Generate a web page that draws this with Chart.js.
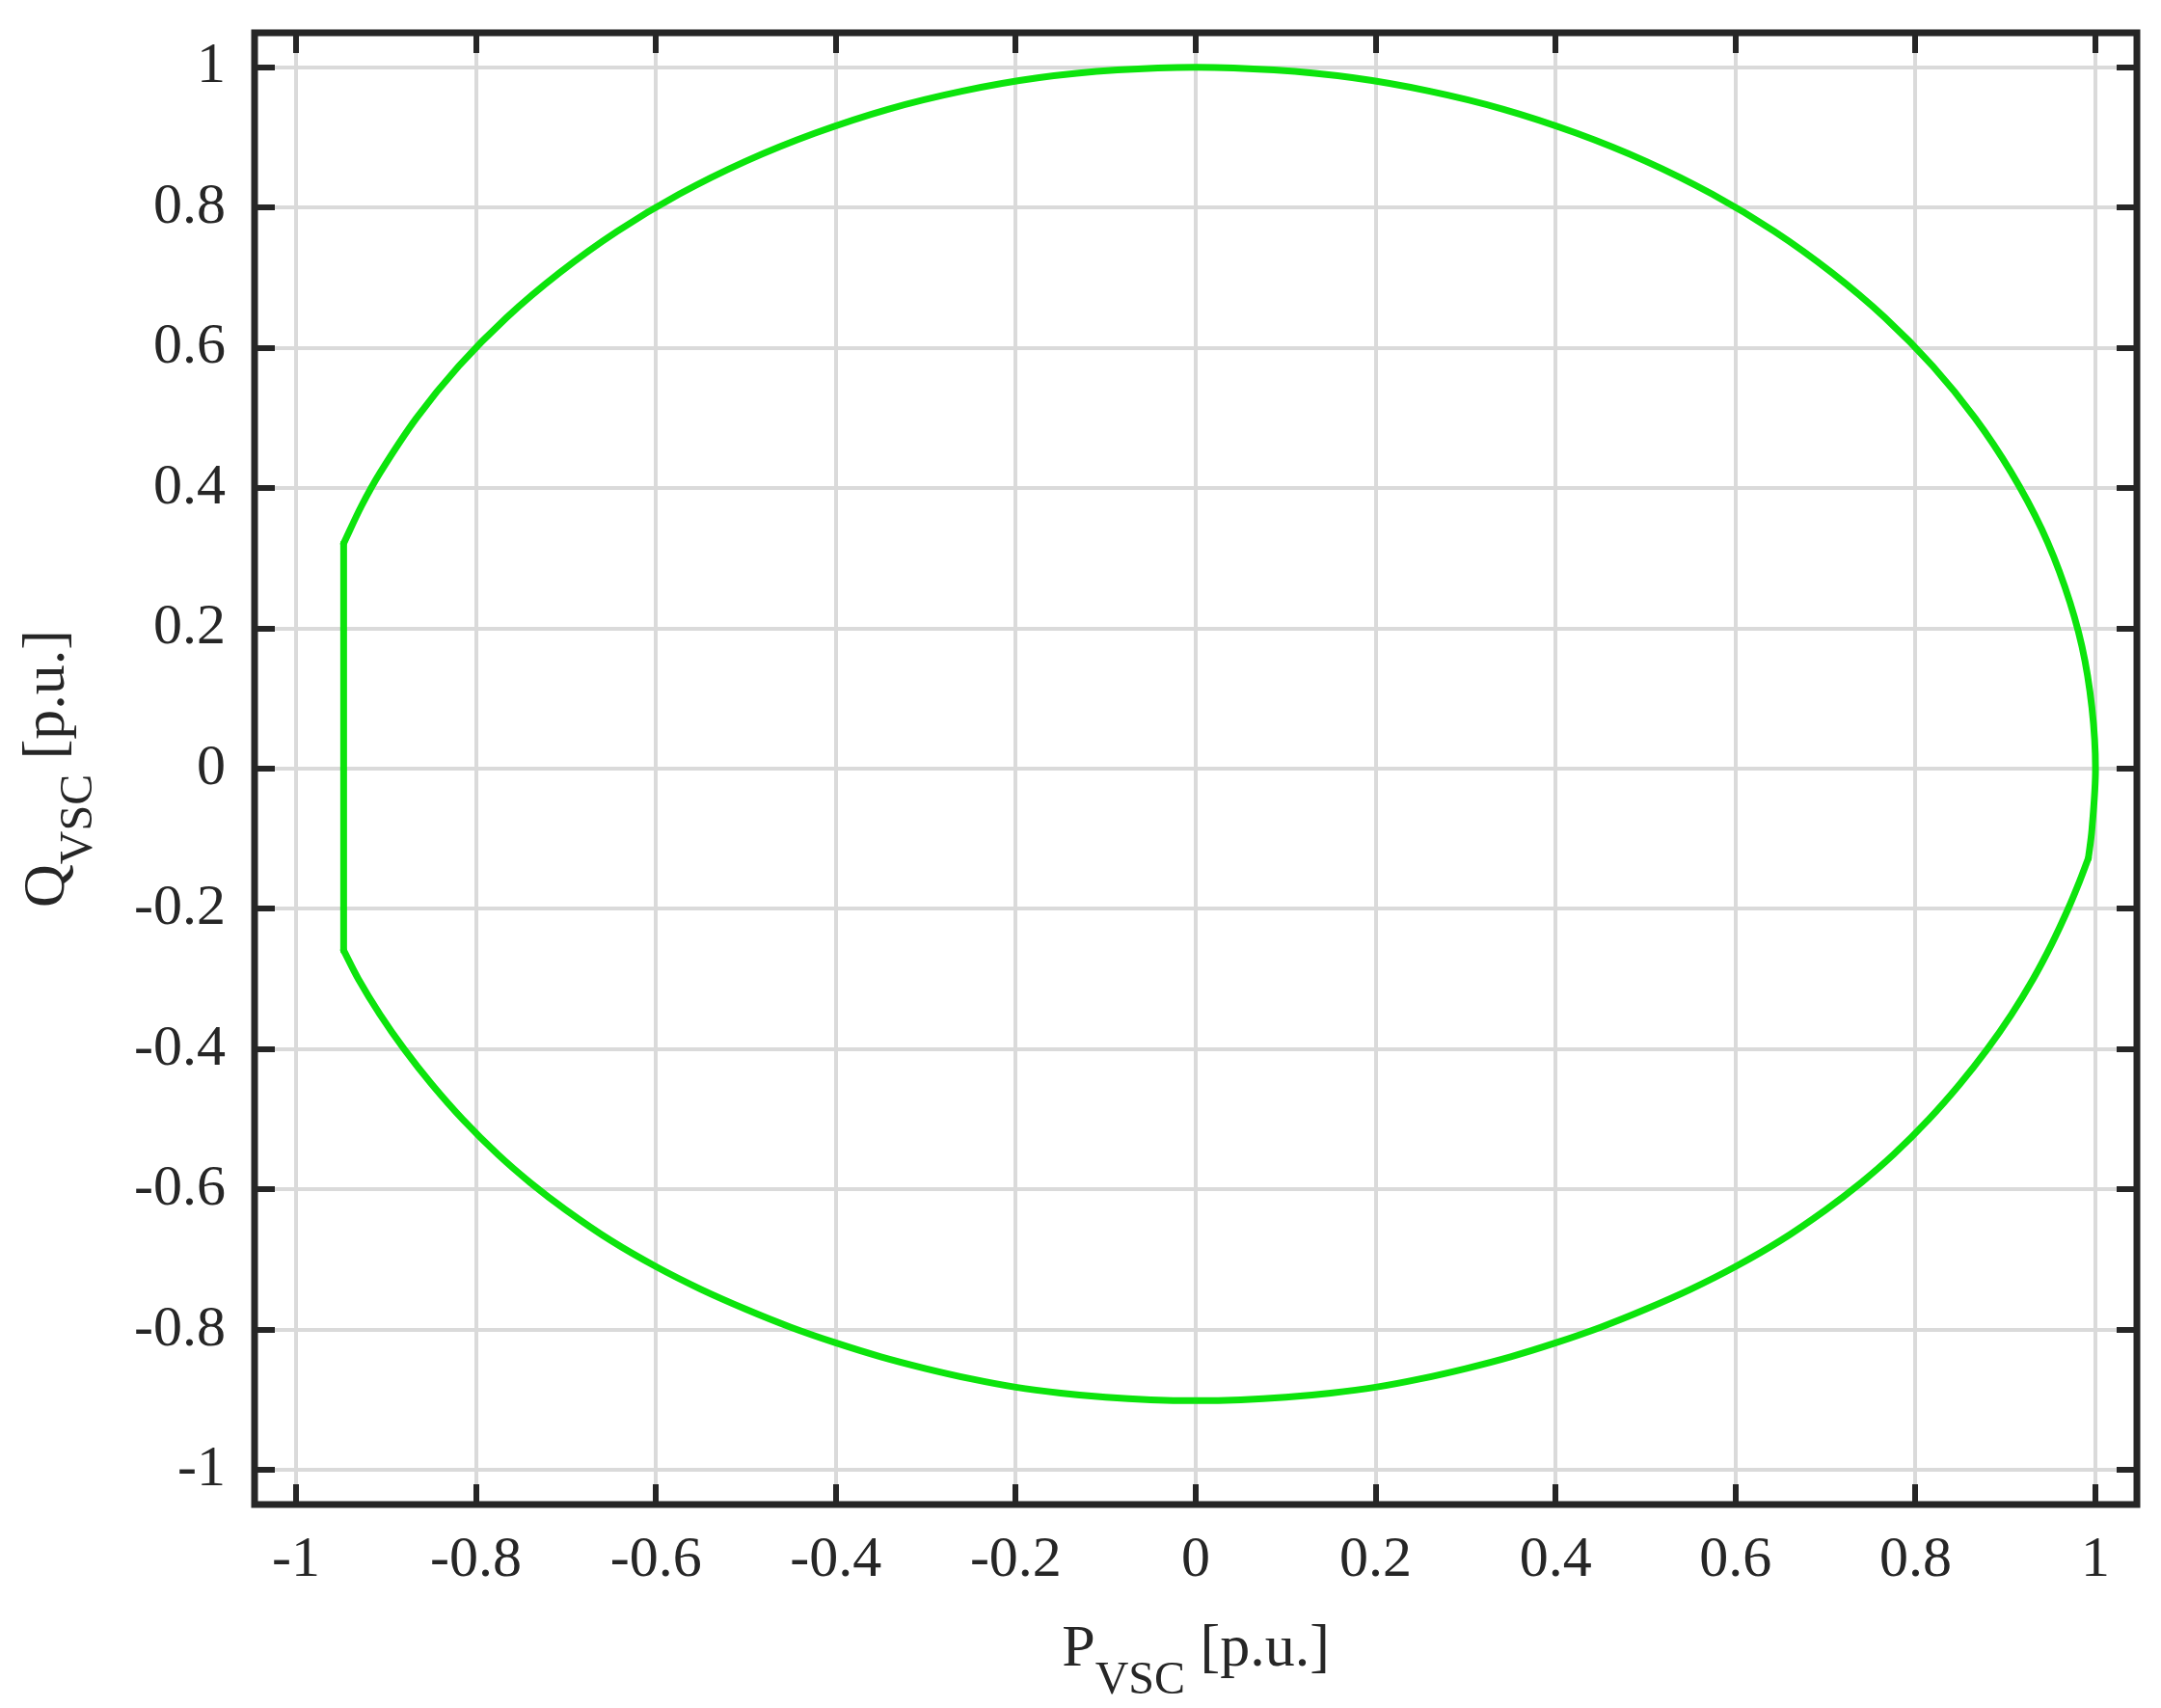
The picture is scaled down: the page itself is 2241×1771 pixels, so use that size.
<!DOCTYPE html>
<html>
<head>
<meta charset="utf-8">
<script src="https://cdn.jsdelivr.net/npm/chart.js@4/dist/chart.umd.min.js"></script>
<style>
  html, body { margin: 0; padding: 0; background: #ffffff; }
  #wrap { width: 2241px; height: 1771px; }
</style>
</head>
<body>
<div id="wrap"><canvas id="c" width="2241" height="1771"></canvas></div>
<script>
// ---- Data ----
// Upper boundary: from the top-left corner of the cut, over the top, to the kink on the right
const P_UPPER = [
  -0.947, -0.927, -0.906, -0.866, -0.819, -0.766, -0.707, -0.643, -0.574, -0.500,
  -0.423, -0.342, -0.259, -0.174, -0.087, 0.000, 0.087, 0.174, 0.259, 0.342,
  0.423, 0.500, 0.574, 0.643, 0.707, 0.766, 0.819, 0.866, 0.906, 0.940,
  0.966, 0.985, 0.996, 1.000, 0.996, 0.992
];
const Q_UPPER = [
  0.321, 0.375, 0.423, 0.500, 0.574, 0.643, 0.707, 0.766, 0.819, 0.866,
  0.906, 0.940, 0.966, 0.985, 0.996, 1.000, 0.996, 0.985, 0.966, 0.940,
  0.906, 0.866, 0.819, 0.766, 0.707, 0.643, 0.574, 0.500, 0.423, 0.342,
  0.259, 0.174, 0.087, 0.000, -0.087, -0.128
];
// Lower boundary: from the kink on the right, under the bottom, to the bottom-left corner of the cut
const P_LOWER = [
  0.9920, 0.9825, 0.9695, 0.9513, 0.9306, 0.9068, 0.8797, 0.8491, 0.8147, 0.7756,
  0.740, 0.700, 0.650, 0.600, 0.550, 0.500, 0.450, 0.400, 0.350, 0.300,
  0.250, 0.200, 0.150, 0.100, 0.050, 0.000, -0.050, -0.100, -0.150, -0.200,
  -0.250, -0.300, -0.350, -0.400, -0.450, -0.500, -0.550, -0.600, -0.650, -0.700,
  -0.740, -0.7756, -0.8147, -0.8491, -0.8797, -0.9068, -0.9306, -0.947
];
const Q_LOWER = [
  -0.128, -0.160, -0.200, -0.250, -0.300, -0.350, -0.400, -0.450, -0.500, -0.550,
  -0.5897, -0.6291, -0.6727, -0.7098, -0.7422, -0.7706, -0.7963, -0.8186, -0.8384, -0.8552,
  -0.8698, -0.8818, -0.8902, -0.8962, -0.8998, -0.9010, -0.8998, -0.8962, -0.8902, -0.8818,
  -0.8698, -0.8552, -0.8384, -0.8186, -0.7963, -0.7706, -0.7422, -0.7098, -0.6727, -0.6291,
  -0.5897, -0.550, -0.500, -0.450, -0.400, -0.350, -0.300, -0.259
];
// Vertical cut on the left side
const P_CUT = [-0.947, -0.947];
const Q_CUT = [-0.259, 0.321];

const X_TICKS = [-1, -0.8, -0.6, -0.4, -0.2, 0, 0.2, 0.4, 0.6, 0.8, 1];
const Y_TICKS = [-1, -0.8, -0.6, -0.4, -0.2, 0, 0.2, 0.4, 0.6, 0.8, 1];
const X_TITLE = { main: 'P', sub: 'VSC', unit: ' [p.u.]' };
const Y_TITLE = { main: 'Q', sub: 'VSC', unit: ' [p.u.]' };

// ---- Styling ----
const FONT = '"Liberation Serif", "Times New Roman", serif';
const TEXT_COLOR = '#262626';
const FRAME_COLOR = '#262626';
const GRID_COLOR = '#dadada';
const LINE_COLOR = 'rgb(12, 228, 12)';

const toPts = (P, Q) => P.map((p, i) => ({ x: p, y: Q[i] }));

function lineSet(data, tension) {
  return {
    data: data,
    showLine: true,
    borderColor: LINE_COLOR,
    backgroundColor: LINE_COLOR,
    borderWidth: 7,
    borderCapStyle: 'round',
    borderJoinStyle: 'round',
    pointRadius: 0,
    pointHoverRadius: 0,
    tension: tension,
    fill: false
  };
}

function drawSubTitle(ctx, t, mainSize, subSize, subDrop) {
  const fMain = mainSize + 'px ' + FONT;
  const fSub = subSize + 'px ' + FONT;
  ctx.font = fMain;
  const w1 = ctx.measureText(t.main).width;
  const w3 = ctx.measureText(t.unit).width;
  ctx.font = fSub;
  const w2 = ctx.measureText(t.sub).width;
  let x = -(w1 + w2 + w3) / 2;
  ctx.textAlign = 'left';
  ctx.textBaseline = 'alphabetic';
  ctx.fillStyle = TEXT_COLOR;
  ctx.font = fMain; ctx.fillText(t.main, x, 0); x += w1;
  ctx.font = fSub; ctx.fillText(t.sub, x, subDrop); x += w2;
  ctx.font = fMain; ctx.fillText(t.unit, x, 0);
}

const framePlugin = {
  id: 'frameAndTitles',
  afterDraw(chart) {
    const ctx = chart.ctx;
    const a = chart.chartArea;
    const xs = chart.scales.x, ys = chart.scales.y;
    ctx.save();
    ctx.strokeStyle = FRAME_COLOR;
    ctx.lineWidth = 6;
    ctx.lineCap = 'butt';
    const tl = 21;
    ctx.beginPath();
    X_TICKS.forEach(v => {
      const px = Math.round(xs.getPixelForValue(v));
      ctx.moveTo(px, a.bottom); ctx.lineTo(px, a.bottom - tl);
      ctx.moveTo(px, a.top); ctx.lineTo(px, a.top + tl);
    });
    Y_TICKS.forEach(v => {
      const py = Math.round(ys.getPixelForValue(v));
      ctx.moveTo(a.left, py); ctx.lineTo(a.left + tl, py);
      ctx.moveTo(a.right, py); ctx.lineTo(a.right - tl, py);
    });
    ctx.stroke();
    ctx.lineWidth = 7;
    ctx.lineJoin = 'miter';
    ctx.strokeRect(a.left, a.top, a.right - a.left, a.bottom - a.top);

    // X axis title
    ctx.save();
    ctx.translate((a.left + a.right) / 2, 1727);
    drawSubTitle(ctx, X_TITLE, 62, 48, 29);
    ctx.restore();
    // Y axis title
    ctx.save();
    ctx.translate(66, (a.top + a.bottom) / 2);
    ctx.rotate(-Math.PI / 2);
    drawSubTitle(ctx, Y_TITLE, 62, 48, 29);
    ctx.restore();
    ctx.restore();
  }
};

function zeroPad(s) {
  s.paddingTop = 0; s.paddingBottom = 0; s.paddingLeft = 0; s.paddingRight = 0;
}

new Chart(document.getElementById('c'), {
  type: 'scatter',
  data: {
    datasets: [
      lineSet(toPts(P_UPPER, Q_UPPER), 0.35),
      lineSet(toPts(P_LOWER, Q_LOWER), 0.35),
      lineSet(toPts(P_CUT, Q_CUT), 0)
    ]
  },
  options: {
    responsive: false,
    devicePixelRatio: 1,
    animation: false,
    layout: { padding: { left: 0, right: 25, top: 34, bottom: 0 } },
    plugins: { legend: { display: false }, tooltip: { enabled: false }, title: { display: false } },
    scales: {
      x: {
        type: 'linear',
        min: -1.046,
        max: 1.046,
        afterBuildTicks: (s) => { s.ticks = X_TICKS.map(v => ({ value: v })); },
        afterFit: (s) => { s.height = 211; zeroPad(s); },
        ticks: {
          callback: (v) => String(v),
          font: { family: FONT, size: 60 },
          color: TEXT_COLOR,
          padding: 22,
          maxRotation: 0,
          autoSkip: false
        },
        grid: { color: GRID_COLOR, lineWidth: 4, drawTicks: false },
        border: { display: false }
      },
      y: {
        type: 'linear',
        min: -1.049,
        max: 1.049,
        afterBuildTicks: (s) => { s.ticks = Y_TICKS.map(v => ({ value: v })); },
        afterFit: (s) => { s.width = 264; zeroPad(s); },
        ticks: {
          callback: (v) => String(v),
          font: { family: FONT, size: 60 },
          color: TEXT_COLOR,
          padding: 30,
          autoSkip: false
        },
        grid: { color: GRID_COLOR, lineWidth: 4, drawTicks: false },
        border: { display: false }
      }
    }
  },
  plugins: [framePlugin]
});
</script>
</body>
</html>
